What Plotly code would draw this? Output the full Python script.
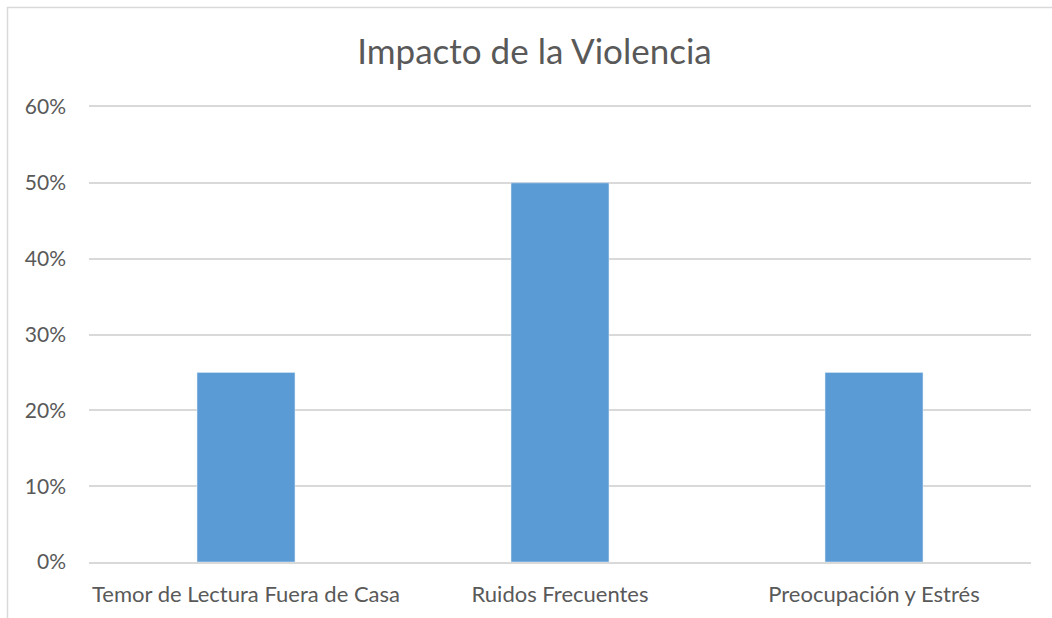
import plotly.graph_objects as go

categories = ["Temor de Lectura Fuera de Casa", "Ruidos Frecuentes", "Preocupación y Estrés"]
values = [0.25, 0.50, 0.25]
y_ticks = [0, 0.1, 0.2, 0.3, 0.4, 0.5, 0.6]
y_tick_labels = ["0%", "10%", "20%", "30%", "40%", "50%", "60%"]
title_text = "Impacto de la Violencia"

W, H = 1052, 618
L, R, T, B = 89, 21, 107, 56
pw, ph = W - L - R, H - T - B

fig = go.Figure(go.Bar(x=categories, y=values, marker_color="#5B9BD5", width=0.312))

fig.update_layout(
    width=W, height=H,
    margin=dict(l=L, r=R, t=T, b=B),
    paper_bgcolor="white", plot_bgcolor="white",
    font=dict(family="Lato, 'Open Sans', sans-serif", color="#595959", size=21),
    title=dict(text=title_text, x=534.5 / W, xanchor="center", xref="container",
               y=1 - 52 / H, yref="container", yanchor="middle",
               font=dict(size=35, color="#595959")),
    showlegend=False,
    xaxis=dict(showgrid=False, showline=True, mirror=True, linecolor="#D9D9D9", linewidth=1.5,
               ticks="", ticklabelstandoff=12, tickfont=dict(size=22)),
    yaxis=dict(range=[0, 0.6], tickvals=y_ticks, ticktext=y_tick_labels,
               showgrid=True, gridcolor="#D9D9D9", gridwidth=1.5, zeroline=False,
               showline=False, ticks="", ticklabelstandoff=22, tickfont=dict(size=21)),
)

fig.add_shape(type="rect", xref="paper", yref="paper",
              x0=(7.5 - L) / pw, x1=1.2, y0=-0.3, y1=1 + (T - 7.5) / ph,
              line=dict(color="#D9D9D9", width=1.5), fillcolor="rgba(0,0,0,0)", layer="below")

fig.write_html("out.html", config={"displayModeBar": False},
               post_script="document.body.style.margin='0';")
